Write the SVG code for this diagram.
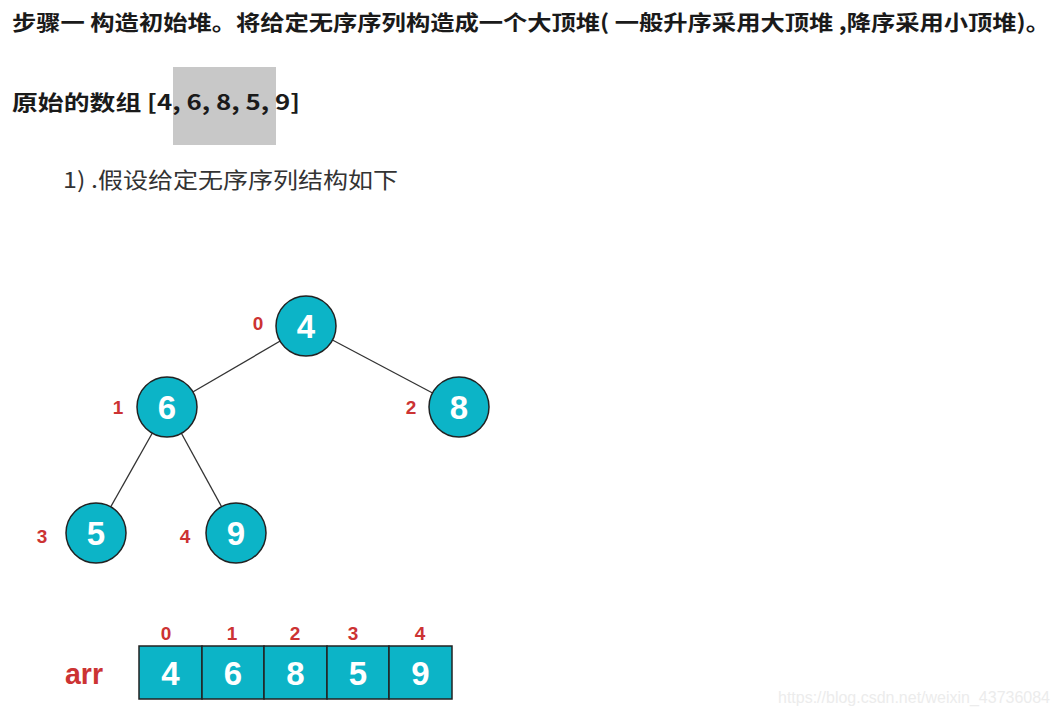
<svg xmlns="http://www.w3.org/2000/svg" width="1059" height="716" viewBox="0 0 1059 716">
<style>
.title{font-family:"Noto Sans CJK SC","Liberation Sans",sans-serif;font-weight:bold;font-size:21px;fill:#1a1a1a}
.sub{font-family:"Noto Sans CJK SC","Liberation Sans",sans-serif;font-size:22px;fill:#333}
.node circle{fill:#0cb4c7;stroke:#222;stroke-width:1.5}
.val{font-family:"Liberation Sans",Arial,sans-serif;font-weight:bold;font-size:33px;fill:#fff;text-anchor:middle}
.idx{font-family:"Liberation Sans",Arial,sans-serif;font-weight:bold;font-size:19px;fill:#cc3333;text-anchor:middle}
.cell rect{fill:#0cb4c7;stroke:#222;stroke-width:1.5}
.edge{stroke:#333;stroke-width:1.3}
</style>
<rect width="1059" height="716" fill="#fff"/>
<text class="title" x="12" y="30" textLength="1038" lengthAdjust="spacingAndGlyphs">步骤一  构造初始堆。将给定无序序列构造成一个大顶堆( 一般升序采用大顶堆 ,降序采用小顶堆)。</text>
<rect x="173" y="67" width="103" height="78" fill="#c8c8c8"/>
<text class="title" x="12" y="110" textLength="288" lengthAdjust="spacingAndGlyphs">原始的数组 [4, 6, 8, 5, 9]</text>
<text class="sub" x="63" y="188" textLength="335" lengthAdjust="spacingAndGlyphs">1) .假设给定无序序列结构如下</text>
<g id="connectors">
<line class="edge" x1="306" y1="326" x2="167" y2="407"/>
<line class="edge" x1="306" y1="326" x2="459" y2="407"/>
<line class="edge" x1="167" y1="407" x2="96" y2="533"/>
<line class="edge" x1="167" y1="407" x2="236" y2="533"/>
</g>
<g id="node0" class="node"><circle cx="306" cy="326" r="30"/><text class="val" x="306" y="338">4</text><text class="idx" x="258" y="330">0</text></g>
<g id="node1" class="node"><circle cx="167" cy="407" r="30"/><text class="val" x="167" y="419">6</text><text class="idx" x="118" y="414">1</text></g>
<g id="node2" class="node"><circle cx="459" cy="407" r="30"/><text class="val" x="459" y="419">8</text><text class="idx" x="411" y="414">2</text></g>
<g id="node3" class="node"><circle cx="96" cy="533" r="30"/><text class="val" x="96" y="545">5</text><text class="idx" x="42" y="543">3</text></g>
<g id="node4" class="node"><circle cx="236" cy="533" r="30"/><text class="val" x="236" y="545">9</text><text class="idx" x="185" y="543">4</text></g>
<g id="array">
<text x="65" y="684" textLength="38" lengthAdjust="spacingAndGlyphs" style="font-family:'Liberation Sans',Arial,sans-serif;font-weight:bold;font-size:29px;fill:#cc3333">arr</text>
<g class="cell"><rect x="139" y="646" width="63" height="53"/><text class="val" x="170.5" y="685">4</text><text class="idx" x="166" y="640">0</text></g>
<g class="cell"><rect x="202" y="646" width="62" height="53"/><text class="val" x="233" y="685">6</text><text class="idx" x="232" y="640">1</text></g>
<g class="cell"><rect x="264" y="646" width="63" height="53"/><text class="val" x="295.5" y="685">8</text><text class="idx" x="295" y="640">2</text></g>
<g class="cell"><rect x="327" y="646" width="62" height="53"/><text class="val" x="358" y="685">5</text><text class="idx" x="353" y="640">3</text></g>
<g class="cell"><rect x="389" y="646" width="63" height="53"/><text class="val" x="420.5" y="685">9</text><text class="idx" x="420" y="640">4</text></g>
</g>
<text x="778" y="703" textLength="272" lengthAdjust="spacingAndGlyphs" style="font-family:'Liberation Sans',Arial,sans-serif;font-size:16px;fill:#ececec">https://blog.csdn.net/weixin_43736084</text>
</svg>
